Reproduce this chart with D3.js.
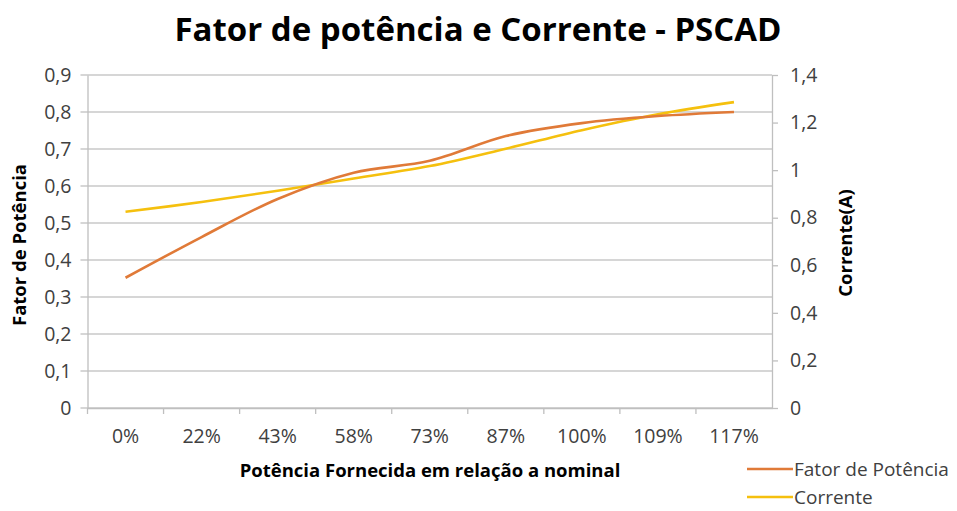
<!DOCTYPE html>
<head>
<meta charset="utf-8">
<script src="https://d3js.org/d3.v7.min.js"></script>
</head>
<style>
body { margin: 0; background: #fff; }
text { font-family: "Open Sans", sans-serif; fill: #404040; }
.grid line { stroke: #c8c8c8; stroke-width: 1.3px; }
.axis path, .axis line { stroke: #bfbfbf; stroke-width: 1.3px; }
.line { fill: none; stroke-width: 2.6px; }
</style>
<body>
<script>
// data
var categories = ["0%", "22%", "43%", "58%", "73%", "87%", "100%", "109%", "117%"];
var fatorPotencia = [0.352, 0.462, 0.565, 0.636, 0.668, 0.735, 0.770, 0.789, 0.800];
var corrente = [0.825, 0.866, 0.913, 0.965, 1.017, 1.090, 1.168, 1.235, 1.286];
var leftTicks = [0, 0.1, 0.2, 0.3, 0.4, 0.5, 0.6, 0.7, 0.8, 0.9];
var rightTicks = [0, 0.2, 0.4, 0.6, 0.8, 1, 1.2, 1.4];

var width = 957, height = 511;
var margin = {top: 75, right: 185, bottom: 103, left: 87.5},
    w = width - margin.left - margin.right,
    h = height - margin.top - margin.bottom;

var fmt = function(d) { return String(d).replace(".", ","); };

var x = d3.scaleBand().domain(categories).range([0, w]);
var y = d3.scaleLinear().domain([0, 0.9]).range([h, 0]);
var y2 = d3.scaleLinear().domain([0, 1.4]).range([h, 0]);

var svg = d3.select("body").append("svg")
    .attr("width", width)
    .attr("height", height);

svg.append("text")
    .attr("x", 478).attr("y", 41)
    .attr("text-anchor", "middle")
    .style("font-size", "33px").style("font-weight", "bold").style("fill", "#000")
    .text("Fator de potência e Corrente - PSCAD");

var g = svg.append("g")
    .attr("transform", "translate(" + margin.left + "," + margin.top + ")");

// horizontal gridlines, which also stick out a bit to the left
g.append("g").attr("class", "grid")
  .selectAll("line").data(leftTicks).enter().append("line")
    .attr("x1", -7).attr("x2", w)
    .attr("y1", function(d) { return y(d); })
    .attr("y2", function(d) { return y(d); });

// left axis
var la = g.append("g").attr("class", "axis")
    .call(d3.axisLeft(y).tickValues(leftTicks).tickFormat(fmt).tickSize(0).tickPadding(16));
la.selectAll("text").style("font-size", "19.5px");

// right axis
var ra = g.append("g").attr("class", "axis")
    .attr("transform", "translate(" + w + ",0)")
    .call(d3.axisRight(y2).tickValues(rightTicks).tickFormat(fmt).tickSizeInner(6).tickSizeOuter(0).tickPadding(12));
ra.selectAll("text").style("font-size", "19.5px");

// bottom axis with ticks at category boundaries
var xa = g.append("g").attr("class", "axis")
    .attr("transform", "translate(0," + h + ")")
    .call(d3.axisBottom(x).tickSize(0).tickPadding(21));
xa.selectAll("text").style("font-size", "19.5px");
xa.selectAll(".bound").data(d3.range(categories.length)).enter().append("line")
    .attr("class", "bound")
    .attr("x1", function(i) { return x(categories[i]); })
    .attr("x2", function(i) { return x(categories[i]); })
    .attr("y1", 0).attr("y2", 6);

var cx = function(d, i) { return x(categories[i]) + x.bandwidth() / 2; };

g.append("path")
    .datum(corrente)
    .attr("class", "line")
    .style("stroke", "#f5c00e")
    .attr("d", d3.line().x(cx).y(function(d) { return y2(d); }).curve(d3.curveCatmullRom.alpha(0.5)));

g.append("path")
    .datum(fatorPotencia)
    .attr("class", "line")
    .style("stroke", "#e07a38")
    .attr("d", d3.line().x(cx).y(function(d) { return y(d); }).curve(d3.curveCatmullRom.alpha(0.5)));

// axis titles
svg.append("text")
    .attr("x", 430).attr("y", 477)
    .attr("text-anchor", "middle")
    .style("font-size", "18.5px").style("font-weight", "bold").style("fill", "#000")
    .text("Potência Fornecida em relação a nominal");

svg.append("text")
    .attr("transform", "translate(26,245) rotate(-90)")
    .attr("text-anchor", "middle")
    .style("font-size", "18.5px").style("font-weight", "bold").style("fill", "#000")
    .text("Fator de Potência");

svg.append("text")
    .attr("transform", "translate(852,243) rotate(-90)")
    .attr("text-anchor", "middle")
    .style("font-size", "18.5px").style("font-weight", "bold").style("fill", "#000")
    .text("Corrente(A)");

// legend
var legend = [{name: "Fator de Potência", color: "#e07a38"}, {name: "Corrente", color: "#f5c00e"}];
var lg = svg.selectAll(".legend").data(legend).enter().append("g")
    .attr("transform", function(d, i) { return "translate(747," + (469 + i * 28) + ")"; });
lg.append("line")
    .attr("x1", 0).attr("x2", 46)
    .style("stroke", function(d) { return d.color; })
    .style("stroke-width", 2.6);
lg.append("text")
    .attr("x", 47).attr("dy", "0.35em")
    .style("font-size", "19px")
    .text(function(d) { return d.name; });
</script>
</body>
